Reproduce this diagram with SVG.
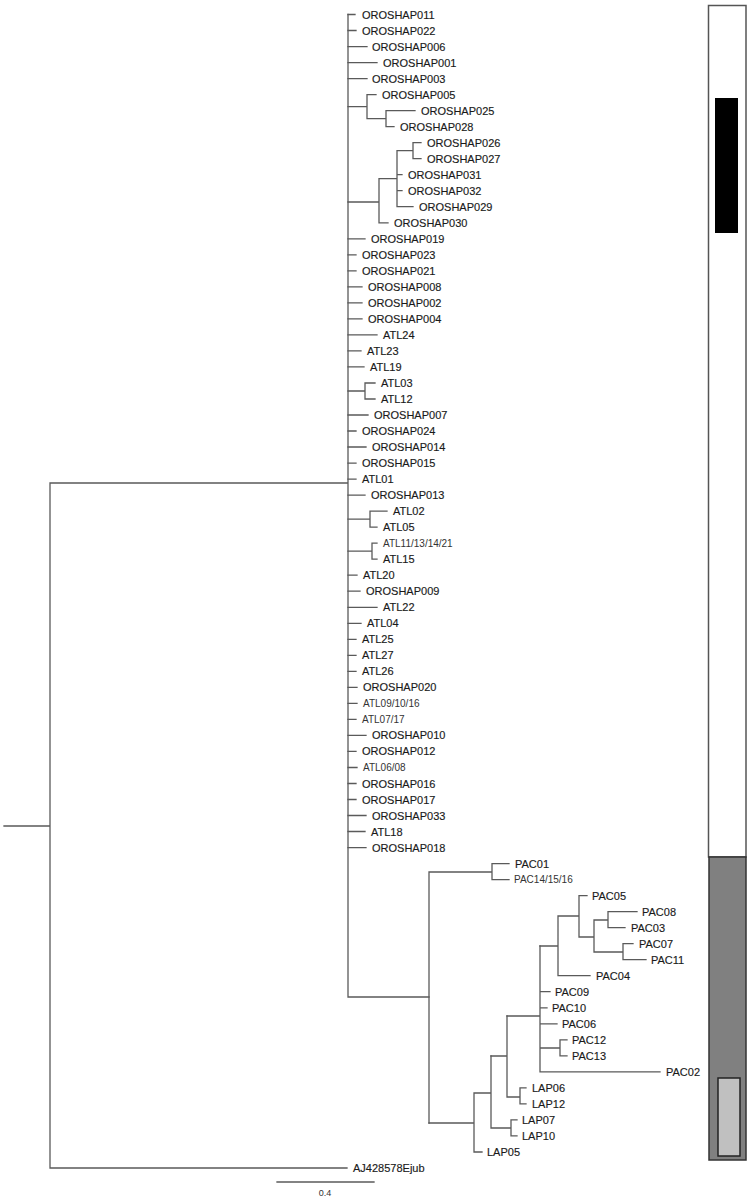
<svg xmlns="http://www.w3.org/2000/svg" width="752" height="1199" viewBox="0 0 752 1199">
<style>
.b{fill:none;stroke:#5a5a5a;stroke-width:1.3;stroke-linecap:square}
.t{font-family:"Liberation Sans",Arial,sans-serif;font-size:11px;fill:#1a1a1a;stroke:#1a1a1a;stroke-width:0.15}
.s{font-family:"Liberation Sans",Arial,sans-serif;font-size:10px;fill:#333}
.sc{font-family:"Liberation Sans",Arial,sans-serif;font-size:9px;fill:#333}
</style>
<rect width="752" height="1199" fill="#fff"/>
<g id="bars">
<rect x="708.5" y="5.5" width="37.5" height="851.5" fill="#fff" stroke="#555" stroke-width="1.5"/>
<rect x="715" y="98" width="23" height="135" fill="#000"/>
<rect x="709" y="857" width="37" height="303" fill="#808080" stroke="#333" stroke-width="1.5"/>
<rect x="718" y="1078" width="22" height="78" fill="#c0c0c0" stroke="#222" stroke-width="1.5"/>
</g>
<g id="connectors">
<path class="b" d="M4 826 H50 M50 483 V1168 M50 483 H348 M348 14.5 V997 M348 997 H429 M50 1168 H347"/>
<path class="b" d="M348 14.5 H355 M348 30.5 H356 M348 46.6 H367 M348 62.6 H377 M348 78.6 H367"/>
<path class="b" d="M348 106.6 H367 M367 94.6 V118.6 M367 94.6 H376 M367 118.6 H386 M386 110.6 V126.6 M386 110.6 H415 M386 126.6 H394"/>
<path class="b" d="M348 202 H379 M379 178.7 V222.8 M379 178.7 H397 M397 150.7 V206.7 M397 150.7 H413 M413 142.7 V158.7 M413 142.7 H421 M413 158.7 H421 M397 174.7 H402 M397 190.7 H402 M397 206.7 H413 M379 222.8 H388"/>
<path class="b" d="M348 238.8 H365 M348 254.8 H356 M348 270.8 H356 M348 286.8 H362 M348 302.9 H362 M348 318.9 H362 M348 334.9 H377 M348 350.9 H361 M348 366.9 H364"/>
<path class="b" d="M348 391 H365 M365 383 V399 M365 383 H375 M365 399 H375"/>
<path class="b" d="M348 415 H368 M348 431 H356 M348 447 H366 M348 463.1 H356 M348 479.1 H356 M348 495.1 H365"/>
<path class="b" d="M348 519.1 H370 M370 511.1 V527.1 M370 511.1 H387 M370 527.1 H377 M348 551.2 H372 M372 543.2 V559.2 M372 543.2 H377 M372 559.2 H377"/>
<path class="b" d="M348 575.2 H357 M348 591.2 H360 M348 607.3 H377 M348 623.3 H361 M348 639.3 H356 M348 655.3 H356 M348 671.3 H356 M348 687.4 H357 M348 703.4 H357 M348 719.4 H356 M348 735.4 H366 M348 751.4 H356 M348 767.5 H357 M348 783.5 H356 M348 799.5 H356 M348 815.5 H366 M348 831.5 H365 M348 847.6 H366"/>
<path class="b" d="M429 872 V1123 M429 872 H492 M492 863.6 V879.6 M492 863.6 H509 M492 879.6 H509"/>
<path class="b" d="M429 1123 H474 M474 1093 V1152 M474 1152 H482 M474 1093 H491 M491 1056 V1128 M491 1128 H511 M511 1119.9 V1135.9 M511 1119.9 H517 M511 1135.9 H517"/>
<path class="b" d="M491 1056 H507 M507 1016 V1097 M507 1097 H520 M520 1087.9 V1103.9 M520 1087.9 H526 M520 1103.9 H526"/>
<path class="b" d="M507 1016 H540 M540 946 V1071.8 M540 991.7 H550 M540 1007.8 H547 M540 1023.8 H557 M540 1048 H560 M560 1039.8 V1055.8 M560 1039.8 H567 M560 1055.8 H567 M540 1071.8 H660"/>
<path class="b" d="M540 946 H558 M558 916 V975.7 M558 975.7 H590 M558 916 H579 M579 895.6 V937 M579 895.6 H587 M579 937 H594 M594 920 V952 M594 920 H608 M608 911.6 V927.7 M608 911.6 H637 M608 927.7 H625 M594 952 H623 M623 943.7 V959.7 M623 943.7 H633 M623 959.7 H646"/>
<path class="b" d="M277 1182 H374"/>
</g>
<g id="n1"><text class="t" x="362" y="18.5">OROSHAP011</text></g>
<g id="n2"><text class="t" x="362" y="34.5">OROSHAP022</text></g>
<g id="n3"><text class="t" x="372" y="50.6">OROSHAP006</text></g>
<g id="n4"><text class="t" x="383" y="66.6">OROSHAP001</text></g>
<g id="n5"><text class="t" x="372" y="82.6">OROSHAP003</text></g>
<g id="n6"><text class="t" x="382" y="98.6">OROSHAP005</text></g>
<g id="n7"><text class="t" x="421" y="114.6">OROSHAP025</text></g>
<g id="n8"><text class="t" x="400" y="130.6">OROSHAP028</text></g>
<g id="n9"><text class="t" x="427" y="146.7">OROSHAP026</text></g>
<g id="n10"><text class="t" x="427" y="162.7">OROSHAP027</text></g>
<g id="n11"><text class="t" x="408" y="178.7">OROSHAP031</text></g>
<g id="n12"><text class="t" x="408" y="194.7">OROSHAP032</text></g>
<g id="n13"><text class="t" x="419" y="210.7">OROSHAP029</text></g>
<g id="n14"><text class="t" x="394" y="226.8">OROSHAP030</text></g>
<g id="n15"><text class="t" x="371" y="242.8">OROSHAP019</text></g>
<g id="n16"><text class="t" x="362" y="258.8">OROSHAP023</text></g>
<g id="n17"><text class="t" x="362" y="274.8">OROSHAP021</text></g>
<g id="n18"><text class="t" x="368" y="290.8">OROSHAP008</text></g>
<g id="n19"><text class="t" x="368" y="306.9">OROSHAP002</text></g>
<g id="n20"><text class="t" x="368" y="322.9">OROSHAP004</text></g>
<g id="n21"><text class="t" x="383" y="338.9">ATL24</text></g>
<g id="n22"><text class="t" x="367" y="354.9">ATL23</text></g>
<g id="n23"><text class="t" x="370" y="370.9">ATL19</text></g>
<g id="n24"><text class="t" x="381" y="387">ATL03</text></g>
<g id="n25"><text class="t" x="381" y="403">ATL12</text></g>
<g id="n26"><text class="t" x="374" y="419">OROSHAP007</text></g>
<g id="n27"><text class="t" x="362" y="435">OROSHAP024</text></g>
<g id="n28"><text class="t" x="372" y="451">OROSHAP014</text></g>
<g id="n29"><text class="t" x="362" y="467.1">OROSHAP015</text></g>
<g id="n30"><text class="t" x="362" y="483.1">ATL01</text></g>
<g id="n31"><text class="t" x="371" y="499.1">OROSHAP013</text></g>
<g id="n32"><text class="t" x="393" y="515.1">ATL02</text></g>
<g id="n33"><text class="t" x="383" y="531.1">ATL05</text></g>
<g id="n34"><text class="s" x="383" y="547">ATL11/13/14/21</text></g>
<g id="n35"><text class="t" x="383" y="563.2">ATL15</text></g>
<g id="n36"><text class="t" x="363" y="579.2">ATL20</text></g>
<g id="n37"><text class="t" x="366" y="595.2">OROSHAP009</text></g>
<g id="n38"><text class="t" x="383" y="611.3">ATL22</text></g>
<g id="n39"><text class="t" x="367" y="627.3">ATL04</text></g>
<g id="n40"><text class="t" x="362" y="643.3">ATL25</text></g>
<g id="n41"><text class="t" x="362" y="659.3">ATL27</text></g>
<g id="n42"><text class="t" x="362" y="675.3">ATL26</text></g>
<g id="n43"><text class="t" x="363" y="691.4">OROSHAP020</text></g>
<g id="n44"><text class="s" x="363" y="707.2">ATL09/10/16</text></g>
<g id="n45"><text class="s" x="362" y="723.2">ATL07/17</text></g>
<g id="n46"><text class="t" x="372" y="739.4">OROSHAP010</text></g>
<g id="n47"><text class="t" x="362" y="755.4">OROSHAP012</text></g>
<g id="n48"><text class="s" x="363" y="771.3">ATL06/08</text></g>
<g id="n49"><text class="t" x="362" y="787.5">OROSHAP016</text></g>
<g id="n50"><text class="t" x="362" y="803.5">OROSHAP017</text></g>
<g id="n51"><text class="t" x="372" y="819.5">OROSHAP033</text></g>
<g id="n52"><text class="t" x="371" y="835.5">ATL18</text></g>
<g id="n53"><text class="t" x="372" y="851.6">OROSHAP018</text></g>
<g id="n54"><text class="t" x="515" y="867.6">PAC01</text></g>
<g id="n55"><text class="s" x="514" y="883.4">PAC14/15/16</text></g>
<g id="n56"><text class="t" x="592" y="899.6">PAC05</text></g>
<g id="n57"><text class="t" x="642" y="915.6">PAC08</text></g>
<g id="n58"><text class="t" x="631" y="931.7">PAC03</text></g>
<g id="n59"><text class="t" x="639" y="947.7">PAC07</text></g>
<g id="n60"><text class="t" x="651" y="963.7">PAC11</text></g>
<g id="n61"><text class="t" x="596" y="979.7">PAC04</text></g>
<g id="n62"><text class="t" x="555" y="995.7">PAC09</text></g>
<g id="n63"><text class="t" x="552" y="1011.8">PAC10</text></g>
<g id="n64"><text class="t" x="562" y="1027.8">PAC06</text></g>
<g id="n65"><text class="t" x="572" y="1043.8">PAC12</text></g>
<g id="n66"><text class="t" x="572" y="1059.8">PAC13</text></g>
<g id="n67"><text class="t" x="666" y="1075.8">PAC02</text></g>
<g id="n68"><text class="t" x="532" y="1091.9">LAP06</text></g>
<g id="n69"><text class="t" x="532" y="1107.9">LAP12</text></g>
<g id="n70"><text class="t" x="522" y="1123.9">LAP07</text></g>
<g id="n71"><text class="t" x="522" y="1139.9">LAP10</text></g>
<g id="n72"><text class="t" x="487" y="1155.9">LAP05</text></g>
<g id="n73"><text class="t" x="353" y="1172">AJ428578Ejub</text></g>
<g id="scale"><text class="sc" x="325" y="1196" text-anchor="middle">0.4</text></g>
</svg>
